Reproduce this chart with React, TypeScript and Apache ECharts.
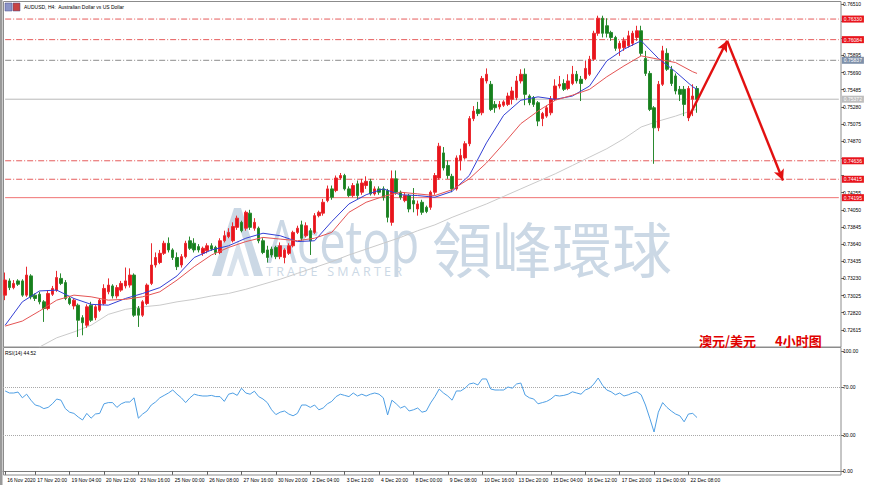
import React, { useEffect, useRef } from "react";
import * as echarts from "echarts";

// ---------------- DATA ----------------
const xTickLabels = [
  "16 Nov 2020", "17 Nov 20:00", "19 Nov 04:00", "20 Nov 12:00", "23 Nov 16:00",
  "25 Nov 00:00", "26 Nov 08:00", "27 Nov 16:00", "30 Nov 20:00", "2 Dec 04:00",
  "3 Dec 12:00", "4 Dec 20:00", "8 Dec 00:00", "9 Dec 08:00", "10 Dec 16:00",
  "13 Dec 20:00", "15 Dec 04:00", "16 Dec 12:00", "17 Dec 20:00", "21 Dec 00:00",
  "22 Dec 08:00",
];

// [open, close, low, high]
const candles: number[][] = [
  [0.7303,0.7321,0.7297,0.7330],[0.7320,0.7312,0.7309,0.7323],[0.7312,0.7317,0.7310,0.7321],[0.7320,0.7316,0.7314,0.7322],
  [0.7320,0.7303,0.7301,0.7322],[0.7303,0.7327,0.7301,0.7337],[0.7326,0.7301,0.7298,0.7328],[0.7303,0.7299,0.7296,0.7305],
  [0.7304,0.7295,0.7292,0.7307],[0.7295,0.7287,0.7271,0.7297],[0.7287,0.7305,0.7285,0.7309],[0.7304,0.7311,0.7302,0.7314],
  [0.7309,0.7324,0.7307,0.7332],[0.7323,0.7317,0.7315,0.7329],[0.7318,0.7299,0.7297,0.7321],[0.7299,0.7293,0.7291,0.7302],
  [0.7290,0.7297,0.7286,0.7299],[0.7291,0.7273,0.7253,0.7293],[0.7276,0.7270,0.7255,0.7279],[0.7267,0.7289,0.7264,0.7292],
  [0.7291,0.7273,0.7271,0.7295],[0.7276,0.7289,0.7273,0.7291],[0.7285,0.7297,0.7283,0.7299],[0.7293,0.7311,0.7291,0.7316],
  [0.7307,0.7315,0.7304,0.7323],[0.7314,0.7302,0.7299,0.7316],[0.7302,0.7312,0.7299,0.7315],[0.7309,0.7317,0.7307,0.7320],
  [0.7314,0.7320,0.7311,0.7336],[0.7315,0.7327,0.7312,0.7335],[0.7327,0.7279,0.7277,0.7329],[0.7287,0.7279,0.7265,0.7290],
  [0.7279,0.7295,0.7277,0.7297],[0.7293,0.7315,0.7291,0.7317],[0.7317,0.7339,0.7315,0.7365],[0.7339,0.7348,0.7336,0.7354],
  [0.7342,0.7353,0.7340,0.7357],[0.7353,0.7365,0.7351,0.7368],[0.7365,0.7357,0.7354,0.7372],[0.7357,0.7348,0.7345,0.7359],
  [0.7348,0.7337,0.7333,0.7354],[0.7339,0.7349,0.7336,0.7352],[0.7349,0.7365,0.7347,0.7368],[0.7368,0.7359,0.7357,0.7373],
  [0.7365,0.7357,0.7354,0.7371],[0.7361,0.7357,0.7354,0.7364],[0.7353,0.7359,0.7350,0.7361],[0.7356,0.7362,0.7353,0.7365],
  [0.7362,0.7358,0.7356,0.7365],[0.7360,0.7354,0.7351,0.7362],[0.7354,0.7368,0.7352,0.7371],[0.7368,0.7374,0.7366,0.7380],
  [0.7373,0.7378,0.7371,0.7383],[0.7368,0.7385,0.7366,0.7390],[0.7384,0.7395,0.7381,0.7398],[0.7390,0.7380,0.7378,0.7392],
  [0.7383,0.7402,0.7380,0.7404],[0.7401,0.7384,0.7381,0.7405],[0.7383,0.7390,0.7380,0.7395],[0.7383,0.7368,0.7365,0.7385],
  [0.7368,0.7354,0.7352,0.7371],[0.7357,0.7348,0.7342,0.7362],[0.7358,0.7351,0.7348,0.7361],[0.7360,0.7349,0.7346,0.7362],
  [0.7349,0.7362,0.7346,0.7366],[0.7348,0.7357,0.7341,0.7359],[0.7353,0.7362,0.7351,0.7365],[0.7362,0.7378,0.7360,0.7380],
  [0.7378,0.7383,0.7376,0.7386],[0.7387,0.7371,0.7368,0.7392],[0.7374,0.7386,0.7372,0.7390],[0.7380,0.7368,0.7351,0.7383],
  [0.7378,0.7398,0.7376,0.7401],[0.7398,0.7402,0.7396,0.7404],[0.7401,0.7414,0.7398,0.7418],[0.7416,0.7430,0.7414,0.7434],
  [0.7430,0.7420,0.7417,0.7434],[0.7428,0.7443,0.7426,0.7446],[0.7443,0.7446,0.7441,0.7449],[0.7446,0.7430,0.7428,0.7448],
  [0.7430,0.7422,0.7420,0.7433],[0.7422,0.7434,0.7420,0.7437],[0.7436,0.7422,0.7418,0.7440],[0.7426,0.7437,0.7423,0.7442],
  [0.7434,0.7439,0.7430,0.7445],[0.7439,0.7424,0.7422,0.7442],[0.7424,0.7430,0.7422,0.7433],[0.7430,0.7426,0.7423,0.7433],
  [0.7430,0.7420,0.7416,0.7433],[0.7428,0.7396,0.7390,0.7430],[0.7390,0.7442,0.7386,0.7452],[0.7442,0.7426,0.7423,0.7452],
  [0.7426,0.7420,0.7417,0.7428],[0.7416,0.7422,0.7414,0.7426],[0.7422,0.7406,0.7402,0.7424],[0.7416,0.7412,0.7402,0.7431],
  [0.7406,0.7412,0.7398,0.7416],[0.7414,0.7402,0.7399,0.7417],[0.7408,0.7403,0.7401,0.7410],[0.7408,0.7426,0.7405,0.7428],
  [0.7426,0.7446,0.7423,0.7449],[0.7443,0.7481,0.7441,0.7485],[0.7473,0.7455,0.7452,0.7480],[0.7458,0.7446,0.7442,0.7464],
  [0.7445,0.7430,0.7426,0.7448],[0.7430,0.7467,0.7428,0.7470],[0.7464,0.7470,0.7452,0.7478],[0.7467,0.7484,0.7465,0.7487],
  [0.7484,0.7514,0.7481,0.7517],[0.7514,0.7523,0.7511,0.7529],[0.7525,0.7520,0.7517,0.7534],[0.7521,0.7562,0.7518,0.7565],
  [0.7559,0.7567,0.7556,0.7574],[0.7555,0.7525,0.7523,0.7559],[0.7531,0.7527,0.7521,0.7535],[0.7528,0.7531,0.7525,0.7535],
  [0.7530,0.7534,0.7528,0.7536],[0.7531,0.7541,0.7529,0.7545],[0.7537,0.7547,0.7531,0.7552],[0.7539,0.7559,0.7536,0.7565],
  [0.7559,0.7567,0.7556,0.7573],[0.7567,0.7543,0.7530,0.7574],[0.7541,0.7533,0.7530,0.7543],[0.7539,0.7531,0.7528,0.7541],
  [0.7533,0.7511,0.7505,0.7535],[0.7514,0.7520,0.7505,0.7522],[0.7517,0.7527,0.7515,0.7530],[0.7521,0.7537,0.7518,0.7541],
  [0.7537,0.7553,0.7535,0.7561],[0.7553,0.7555,0.7550,0.7565],[0.7556,0.7549,0.7547,0.7561],[0.7550,0.7559,0.7548,0.7567],
  [0.7556,0.7567,0.7554,0.7577],[0.7567,0.7559,0.7556,0.7571],[0.7561,0.7556,0.7535,0.7565],[0.7562,0.7574,0.7560,0.7583],
  [0.7567,0.7585,0.7565,0.7589],[0.7585,0.7616,0.7583,0.7619],[0.7616,0.7634,0.7613,0.7637],[0.7634,0.7616,0.7611,0.7637],
  [0.7625,0.7616,0.7611,0.7634],[0.7617,0.7611,0.7607,0.7619],[0.7611,0.7598,0.7595,0.7613],[0.7598,0.7604,0.7589,0.7607],
  [0.7599,0.7607,0.7595,0.7611],[0.7601,0.7613,0.7599,0.7619],[0.7604,0.7616,0.7601,0.7619],[0.7611,0.7619,0.7607,0.7625],
  [0.7619,0.7592,0.7589,0.7625],[0.7586,0.7568,0.7565,0.7595],[0.7568,0.7525,0.7523,0.7571],[0.7527,0.7503,0.7460,0.7529],
  [0.7503,0.7555,0.7499,0.7559],[0.7555,0.7595,0.7553,0.7601],[0.7592,0.7573,0.7571,0.7598],[0.7573,0.7556,0.7553,0.7577],
  [0.7565,0.7547,0.7543,0.7568],[0.7549,0.7543,0.7535,0.7553],[0.7549,0.7531,0.7517,0.7553],[0.7515,0.7550,0.7511,0.7553],
  [0.7537,0.7541,0.7517,0.7555],[0.7550,0.7537,0.7521,0.7553],
];

// moving averages sampled every 4 bars (last value = last bar)
const maFast = [0.7267,0.7295,0.7308,0.7309,0.7299,0.7292,0.7291,0.7299,0.7305,0.7312,0.7326,0.7348,0.7357,0.7362,0.7371,0.7377,0.7374,0.7367,0.7368,0.7391,0.7412,0.7423,0.7430,0.7423,0.7422,0.7420,0.7427,0.7446,0.7485,0.7518,0.7536,0.7540,0.7537,0.7541,0.7553,0.7583,0.7597,0.7607,0.7586,0.7570,0.7552,0.7549];
const maSlow = [0.7266,0.7272,0.7284,0.7297,0.7303,0.7301,0.7297,0.7298,0.7301,0.7307,0.7321,0.7337,0.7351,0.7360,0.7367,0.7372,0.7370,0.7368,0.7371,0.7378,0.7402,0.7414,0.7421,0.7426,0.7424,0.7422,0.7429,0.7442,0.7461,0.7484,0.7508,0.7523,0.7536,0.7542,0.7549,0.7564,0.7577,0.7589,0.7585,0.7581,0.7570,0.7568];
const maLong = [null,null,0.7241,0.7252,0.7259,0.7267,0.7280,0.7286,0.7289,0.7291,0.7295,0.7298,0.7302,0.7305,0.7310,0.7316,0.7322,0.7329,0.7336,0.7343,0.7351,0.7358,0.7365,0.7372,0.7380,0.7387,0.7396,0.7404,0.7412,0.7421,0.7430,0.7439,0.7448,0.7458,0.7468,0.7478,0.7490,0.7504,0.7511,0.7517,0.7524,0.7525];

const rsi = [
  66.7,65,65,65.8,61,64,59,55,54,52,53,56,60,59,52,49,48,45,42.5,48,
  44,47.5,48,56,57,57,53,56,57.5,57.5,61,44,47.5,50,55,57.5,61,63,65,67.5,
  64,61,57,61,64,63,62.5,62.5,63,62,62,58,64,65,63,69,65,64,66.5,62,
  60,57,51,47,49,50,47.5,46,48,55,55,53,55,51,52.5,56,58,62,64,63,
  62,65,62.5,64,62.5,64,65,64,61,46.7,59,56,52.5,54,50,51,52.5,49,50,56.7,
  62,68.3,65,62.5,59,66.7,66.7,69,72.5,73.3,71.7,76.7,76.7,68.3,67.5,67.5,67.5,70,69,72.5,
  73.3,63.3,61,60,56,57,58,60,63,62.5,63,64,66,65,64,67.5,69,72.5,77.5,71.5,
  67.5,66,63.5,65,62.5,63.5,65,66,63.5,55,44,32.5,49,57,53,50,47.5,46,41,47.5,
  48,44.52,
];

const priceMin = 0.7241;
const priceMax = 0.7651;
const priceStep = 0.00205;
const rsiTicks = [0, 30, 70, 100];
const rsiLevels = [70, 30];

// horizontal levels drawn on the chart (value, box text, style)
const levels = [
  { value: 0.7633, text: "0.76330", kind: "red" },
  { value: 0.76084, text: "0.76084", kind: "red" },
  { value: 0.75837, text: "0.75837", kind: "grey" },
  { value: 0.75372, text: "0.75372", kind: "bid" },
  { value: 0.74636, text: "0.74636", kind: "red" },
  { value: 0.74415, text: "0.74415", kind: "red" },
  { value: 0.74195, text: "0.74195", kind: "solid" },
];

// forecast arrow: [bar index, price]
const arrowPath = [[159, 0.7515], [168, 0.7607], [181, 0.744]];

// ---------------- OPTION ----------------
const FONT = "'Liberation Sans', Arial, sans-serif";
const NCAT = 195;
const cats = Array.from({ length: NCAT }, (_, i) => "b" + i);
const labelAt = new Map<number, string>();
xTickLabels.forEach((t, k) => labelAt.set(k === 0 ? 0 : 7 + 8 * (k - 1), t));

const levelStyles: Record<string, { color: string; type: any; box: string }> = {
  red: { color: "#e65c5c", type: [6, 2, 1, 2], box: "#e8141c" },
  grey: { color: "#8c8c8c", type: [6, 2, 1, 2], box: "#7f91aa" },
  bid: { color: "#b8b8b8", type: "solid", box: "#bdbdbd" },
  solid: { color: "#f07272", type: "solid", box: "#e8141c" },
};

function spread(vals: (number | null)[]) {
  const arr: (number | null)[] = new Array(candles.length).fill(null);
  vals.forEach((v, k) => {
    arr[Math.min(k * 4, candles.length - 1)] = v;
  });
  return arr;
}

function levelSeries(l: { value: number; text: string; kind: string }) {
  const s = levelStyles[l.kind];
  const data: (number | null)[] = new Array(NCAT).fill(null);
  data[0] = l.value;
  data[NCAT - 1] = l.value;
  return {
    type: "line",
    xAxisIndex: 0,
    yAxisIndex: 0,
    data,
    connectNulls: true,
    showSymbol: false,
    symbol: "none",
    silent: true,
    z: 2,
    lineStyle: { color: s.color, type: s.type, width: 1 },
    endLabel: {
      show: true,
      formatter: l.text,
      distance: 3,
      backgroundColor: s.box,
      color: "#ffffff",
      fontSize: 5,
      fontFamily: FONT,
      padding: [1, 2, 1, 2],
    },
  };
}

// hide axis tick labels that sit under a level box
function tickText(v: number) {
  const clash = levels.some((l) => Math.abs(l.value - v) < 0.0005);
  return clash ? "" : v.toFixed(5);
}

function buildOption(): any {
  const axisFont = { fontSize: 5, color: "#000", fontFamily: FONT };
  const wm = "#cbd8e5";
  return {
    animation: false,
    backgroundColor: "#ffffff",
    grid: [
      { left: 3, right: 29, top: 4, height: 343 },
      { left: 3, right: 29, top: 351, height: 120 },
    ],
    xAxis: [
      {
        type: "category", gridIndex: 0, data: cats, boundaryGap: true,
        axisLine: { show: false }, axisTick: { show: false }, axisLabel: { show: false }, splitLine: { show: false },
      },
      {
        type: "category", gridIndex: 1, data: cats, boundaryGap: true, offset: 4,
        axisLine: { show: true, lineStyle: { color: "#7a7a7a", width: 1 } },
        axisTick: {
          show: true, alignWithLabel: true, length: 4,
          interval: (i: number) => labelAt.has(i),
          lineStyle: { color: "#606060" },
        },
        axisLabel: {
          ...axisFont,
          interval: (i: number) => labelAt.has(i),
          formatter: (_v: string, i: number) => labelAt.get(i) ?? "",
          align: "left",
          margin: 2,
          padding: [0, 0, 0, 2],
        },
        splitLine: { show: false },
      },
    ],
    yAxis: [
      {
        type: "value", gridIndex: 0, position: "right",
        min: priceMin, max: priceMax, interval: priceStep,
        axisLine: { show: false },
        axisTick: { show: true, length: 3, lineStyle: { color: "#606060" } },
        axisLabel: { ...axisFont, margin: 2, showMinLabel: false, formatter: (v: number) => tickText(v) },
        splitLine: { show: false },
      },
      {
        type: "value", gridIndex: 1, position: "right", min: 0, max: 100,
        axisLine: { show: false },
        axisTick: { show: true, length: 3, customValues: rsiTicks, lineStyle: { color: "#606060" } },
        axisLabel: { ...axisFont, margin: 2, customValues: rsiTicks, formatter: (v: number) => v.toFixed(2) },
        splitLine: { show: false },
      },
    ],
    series: [
      ...levels.map(levelSeries),
      {
        type: "candlestick",
        xAxisIndex: 0, yAxisIndex: 0,
        data: candles,
        barWidth: 3,
        z: 4,
        itemStyle: {
          color: "#e8141c", color0: "#16801c",
          borderColor: "#ea2a30", borderColor0: "#2a8a30", borderWidth: 1,
        },
      },
      {
        type: "line", xAxisIndex: 0, yAxisIndex: 0, data: spread(maFast),
        connectNulls: true, showSymbol: false, smooth: false, z: 5,
        lineStyle: { color: "#3440d4", width: 1 },
      },
      {
        type: "line", xAxisIndex: 0, yAxisIndex: 0, data: spread(maSlow),
        connectNulls: true, showSymbol: false, smooth: false, z: 5,
        lineStyle: { color: "#e45454", width: 1 },
      },
      {
        type: "line", xAxisIndex: 0, yAxisIndex: 0, data: spread(maLong),
        connectNulls: true, showSymbol: false, smooth: false, z: 3,
        lineStyle: { color: "#cacaca", width: 1 },
      },
      {
        type: "line", xAxisIndex: 0, yAxisIndex: 0, data: spread([]),
        showSymbol: false, z: 10,
        lineStyle: { opacity: 0 },
        markLine: {
          silent: true, animation: false, z: 10, precision: 5,
          symbol: ["none", "arrow"], symbolSize: [8, 11],
          lineStyle: { color: "#e21010", width: 2.4, type: "solid" },
          label: { show: false },
          data: [
            [{ coord: arrowPath[0] }, { coord: arrowPath[1] }],
            [{ coord: arrowPath[1] }, { coord: arrowPath[2] }],
          ],
        },
      },
      {
        type: "line", xAxisIndex: 1, yAxisIndex: 1, data: rsi,
        showSymbol: false, smooth: false, z: 5,
        lineStyle: { color: "#4f9fe4", width: 1 },
        markLine: {
          silent: true, symbol: ["none", "none"], animation: false,
          label: { show: false },
          lineStyle: { color: "#a8a8a8", type: "dotted", width: 1 },
          data: rsiLevels.map((v) => ({ yAxis: v })),
        },
      },
    ],
    graphic: [
      // watermark
      {
        type: "group", z: 0, silent: true,
        children: [
          { type: "polygon", shape: { points: [[212, 276], [234, 208], [241, 208], [221, 276]] }, style: { fill: wm } },
          { type: "polygon", shape: { points: [[234, 208], [241, 208], [263, 276], [254, 276]] }, style: { fill: wm } },
          { type: "polygon", shape: { points: [[227, 276], [238, 240], [249, 276], [244, 276], [238, 258], [232, 276]] }, style: { fill: "#d8e2ec" } },
          { type: "text", x: 267, y: 270, scaleY: 1.28, style: { text: "Acetop", fontSize: 47, fontFamily: "'Open Sans', sans-serif", fill: wm, textVerticalAlign: "bottom" } },
          { type: "text", x: 432, y: 276, style: { text: "領峰環球", fontSize: 60, fontFamily: "'Noto Sans CJK TC'", fill: wm, textVerticalAlign: "bottom" } },
          { type: "text", x: 266, y: 271, style: { text: "T R A D E   S M A R T E R", fontSize: 12.5, fontFamily: "'Open Sans', sans-serif", fill: wm, textVerticalAlign: "middle" } },
        ],
      },
      // frames
      { type: "rect", z: 1, silent: true, shape: { x: 3.5, y: 1.5, width: 837.5, height: 345.5 }, style: { fill: "none", stroke: "#8c8c8c", lineWidth: 1 } },
      { type: "rect", z: 1, silent: true, shape: { x: 3.5, y: 347.5, width: 837.5, height: 127.5 }, style: { fill: "none", stroke: "#8c8c8c", lineWidth: 1 } },
      { type: "rect", z: 1, silent: true, shape: { x: 0, y: 0, width: 2.5, height: 485 }, style: { fill: "#9a9a9a" } },
      // title
      { type: "rect", z: 20, shape: { x: 5, y: 3, width: 7, height: 8 }, style: { fill: "#8c95c8", stroke: "#4a4a8a", lineWidth: 0.5 } },
      { type: "rect", z: 20, shape: { x: 13, y: 3, width: 7, height: 8 }, style: { fill: "#c84444", stroke: "#4a4a8a", lineWidth: 0.5 } },
      { type: "text", z: 20, x: 24, y: 7, style: { text: "AUDUSD, H4:  Australian Dollar vs US Dollar", fontSize: 5, fontFamily: FONT, fill: "#000", textVerticalAlign: "middle" } },
      { type: "text", z: 20, x: 5, y: 353, style: { text: "RSI(14) 44.52", fontSize: 5, fontFamily: FONT, fill: "#000", textVerticalAlign: "middle" } },
      // chart caption
      { type: "text", z: 20, x: 699, y: 340, style: { text: "澳元/美元", fontSize: 13, fontWeight: "bold", fontFamily: "'Noto Sans CJK SC'", fill: "#e00000", textVerticalAlign: "middle" } },
      { type: "text", z: 20, x: 775, y: 340, style: { text: "4小时图", fontSize: 13, fontWeight: "bold", fontFamily: "'Noto Sans CJK SC'", fill: "#e00000", textVerticalAlign: "middle" } },
    ],
  };
}

export default function App() {
  const ref = useRef<HTMLDivElement>(null);
  useEffect(() => {
    if (!ref.current) return;
    const chart = echarts.init(ref.current, null, { renderer: "svg" });
    chart.setOption(buildOption());
    return () => chart.dispose();
  }, []);
  return (
    <div
      ref={ref}
      style={{ position: "fixed", left: 0, top: 0, width: 870, height: 485, background: "#fff" }}
    />
  );
}
